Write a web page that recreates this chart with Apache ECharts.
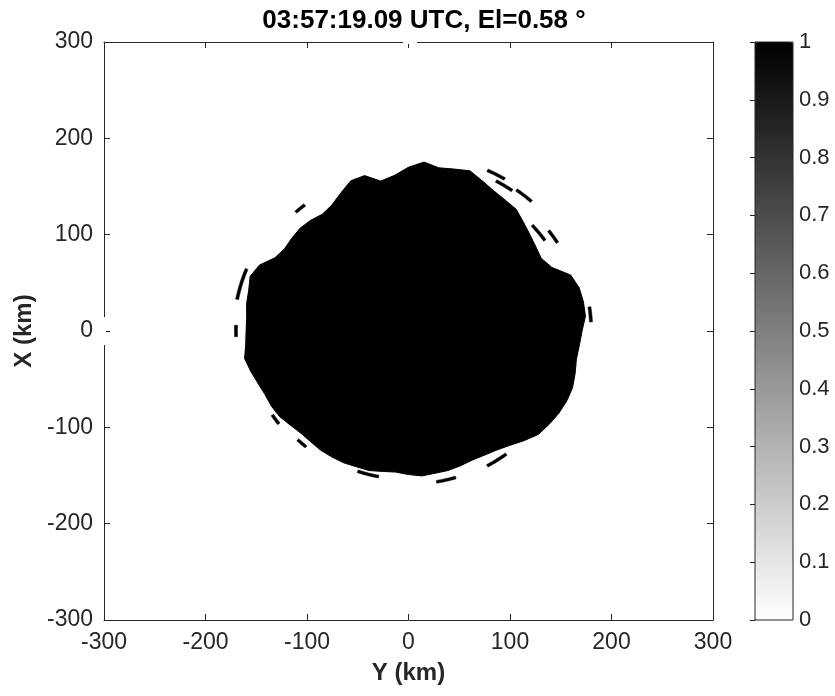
<!DOCTYPE html>
<html><head><meta charset="utf-8">
<script src="https://cdn.jsdelivr.net/npm/echarts@6/dist/echarts.min.js"></script>
<style>html,body{margin:0;padding:0;background:#fff}#c{width:835px;height:696px}</style>
</head><body><div id="c"></div>
<script>
// ---- data ----
const titleText = '03:57:19.09 UTC, El=0.58 \u00b0';
const axisMinKm = -300, axisMaxKm = 300, axisStepKm = 100;
const colorMin = 0, colorMax = 1, colorStep = 0.1;
const echoValue = 1;
// echo edge: azimuth (deg, clockwise from +X) and edge range (km)
const edgeAzimuthDeg = [0,5,10,15,20,25,30,35,40,45,50,55,60,65,70,75,80,85,90,95,100,105,110,115,120,125,130,135,140,145,150,155,160,165,170,175,180,185,190,195,200,205,210,215,220,225,230,235,240,245,250,255,260,265,270,275,280,285,290,295,300,305,310,315,320,325,330,335,340,345,350,355];
const edgeRangeKm = [170,176,172,174,177,172,168,166,165,160,156,153,151,156,170,174,175,175,171,169,168,170,172,172,171,169,167,161,155,151,149,148,149,150,150,151,149,147,148,150,150,151,151,151,150,150,152,155,156,156,158,161,164,161,160,160,162,163,166,162,152,149,150,151,150,148,151,158,166,167,158,162];
// detached echo streaks
const fragAzStart = [318,281,268,48,53,25,29,36,82,163,143,191,233,220];
const fragAzEnd   = [322,292,272,55,58,31,35,42,87,170,151,199,237,224];
const fragRangeKm = [166,172,170,164,173,184,178,181,180,159,160,154,160,157];

function polar(azDeg, r) {
  const a = azDeg * Math.PI / 180;
  return [r * Math.sin(a), r * Math.cos(a)]; // [Y, X]
}

const chart = echarts.init(document.getElementById('c'), null, {renderer: 'canvas'});
const font = 'Liberation Sans, Arial, Helvetica, sans-serif';
const axColor = '#262626';

const mainAxisCommon = {
  type: 'value', min: axisMinKm, max: axisMaxKm, interval: axisStepKm,
  splitLine: {show: false},
  axisLine: {show: true, onZero: false, lineStyle: {color: axColor, width: 1}},
  axisTick: {show: true, inside: true, length: 6, lineStyle: {color: axColor}}
};

const option = {
  animation: false,
  backgroundColor: '#ffffff',
  title: {
    text: titleText, left: 419, top: 3, textAlign: 'center',
    textStyle: {fontFamily: font, fontSize: 26, fontWeight: 'bold', color: '#000'}
  },
  grid: [
    {left: 104, top: 42, width: 609, height: 578, show: false},
    {left: 755, top: 42, width: 38, height: 578, show: true, borderColor: axColor, borderWidth: 1, z: 10, backgroundColor: 'transparent'}
  ],
  xAxis: [
    Object.assign({}, mainAxisCommon, {gridIndex: 0, position: 'bottom',
      name: 'Y (km)', nameLocation: 'middle', nameGap: 41,
      nameTextStyle: {fontFamily: font, fontSize: 24, fontWeight: 'bold', color: axColor},
      axisLabel: {fontFamily: font, fontSize: 23, color: axColor, margin: 11}}),
    Object.assign({}, mainAxisCommon, {gridIndex: 0, position: 'top', axisLabel: {show: false}}),
    {type: 'value', gridIndex: 1, min: 0, max: 1, show: false}
  ],
  yAxis: [
    Object.assign({}, mainAxisCommon, {gridIndex: 0, position: 'left',
      name: 'X (km)', nameLocation: 'middle', nameGap: 68, nameRotate: 90,
      nameTextStyle: {fontFamily: font, fontSize: 24, fontWeight: 'bold', color: axColor},
      axisLabel: {fontFamily: font, fontSize: 23, color: axColor, margin: 11}}),
    Object.assign({}, mainAxisCommon, {gridIndex: 0, position: 'right', axisLabel: {show: false}}),
    {type: 'value', gridIndex: 1, position: 'right', min: colorMin, max: colorMax, interval: colorStep,
      splitLine: {show: false},
      axisLine: {show: true, lineStyle: {color: axColor}},
      axisTick: {show: true, inside: true, length: 5, lineStyle: {color: axColor}},
      axisLabel: {fontFamily: font, fontSize: 22, color: axColor, margin: 6,
        formatter: v => String(Math.round(v * 10) / 10)}}
  ],
  visualMap: {
    type: 'continuous', min: colorMin, max: colorMax, dimension: 0, seriesIndex: [0, 1],
    inRange: {color: ['#ffffff', '#000000']},
    calculable: false, realtime: false, hoverLink: false,
    itemWidth: 38, itemHeight: 578, left: 755, top: 42, padding: 0,
    orient: 'vertical', text: null, showLabel: false
  },
  series: [
    {
      type: 'custom', xAxisIndex: 0, yAxisIndex: 0, clip: true, silent: true,
      data: [[echoValue]],
      renderItem: function (params, api) {
        const pts = edgeAzimuthDeg.map((a, i) => api.coord(polar(a, edgeRangeKm[i])));
        const c = api.visual('color');
        return {type: 'polygon', shape: {points: pts}, style: {fill: c, stroke: c, lineWidth: 1}};
      }
    },
    {
      type: 'custom', xAxisIndex: 0, yAxisIndex: 0, clip: true, silent: true,
      data: fragAzStart.map((s, i) => [echoValue, s, fragAzEnd[i], fragRangeKm[i]]),
      renderItem: function (params, api) {
        const a0 = api.value(1), a1 = api.value(2), r = api.value(3);
        const n = Math.max(2, Math.ceil((a1 - a0) / 0.5));
        const outer = [], inner = [];
        for (let k = 0; k <= n; k++) {
          const a = a0 + (a1 - a0) * k / n;
          outer.push(api.coord(polar(a, r + 1.5)));
          inner.unshift(api.coord(polar(a, r - 1.5)));
        }
        const c = api.visual('color');
        return {type: 'polygon', shape: {points: outer.concat(inner)}, style: {fill: c, stroke: c, lineWidth: 0.5}};
      }
    }
  ],
  graphic: [
    {type: 'rect', z: 100, shape: {x: 403, y: 40, width: 14, height: 4}, style: {fill: '#fff'}},
    {type: 'rect', z: 100, shape: {x: 101, y: 317, width: 5, height: 28}, style: {fill: '#fff'}}
  ]
};
chart.setOption(option);
</script>
</body></html>
